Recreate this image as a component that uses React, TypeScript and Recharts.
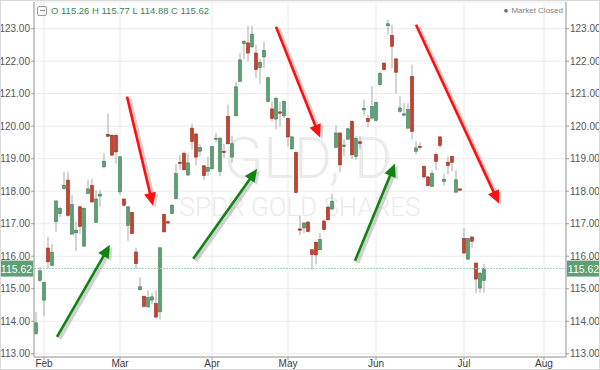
import React from "react";
import { ComposedChart, Bar, XAxis, YAxis, CartesianGrid, ReferenceLine } from "recharts";

// GLD daily candles, one entry per trading day starting Jan 30
const opens = [
  113.62, 115.26, 114.65, 116.25, 115.72, 117.06, 117.31, 118.08, 118.34, 116.68,
  116.72, 117.52, 116.31, 117.93, 118.17, 117.04, 117.85, 118.75, 119.75, 119.72,
  119.72, 117.98, 117.76, 116.95, 117.34, 116.13, 114.97, 114.77, 114.44, 114.65,
  114.54, 114.29, 117.28, 117.06, 117.31, 117.77, 118.89, 119.17, 118.5, 119.94,
  119.76, 119.23, 118.78, 118.61, 118.69, 119.6, 118.61, 119.23, 120.3, 119.05,
  120.32, 121.38, 122.54, 122.56, 122.44, 122.25, 121.8, 122.13, 120.76, 120.53,
  120.22, 120.44, 120.32, 120.24, 119.3, 119.19, 116.84, 116.87, 117.05, 116.2,
  116.43, 116.2, 117.08, 117.51, 117.45, 119.35, 119.79, 119.38, 119.6, 120.15,
  119.07, 119.52, 120.5, 120.24, 120.25, 120.18, 121.28, 121.94, 123.09, 122.79,
  122.07, 120.46, 120.34, 119.94, 121.53, 119.23, 119.38, 118.76, 118.44, 118.15,
  119.13, 119.67, 118.3, 118.89, 119.07, 117.97, 118.07, 116.55, 115.91, 116.59,
  115.79, 115.02, 115.26,
];
const highs = [
  114.29, 115.67, 115.21, 116.6, 116.37, 117.72, 117.52, 118.6, 118.6, 117.88,
  117.06, 117.54, 117.5, 118.34, 118.38, 118.03, 118.03, 119.16, 120.39, 119.77,
  119.77, 119.08, 117.77, 117.54, 117.36, 116.26, 115.36, 114.78, 114.95, 114.87,
  114.95, 116.26, 117.31, 117.1, 117.6, 118.84, 119.12, 119.23, 119.17, 120.08,
  119.79, 119.45, 118.8, 119.07, 119.38, 119.79, 119.67, 119.46, 120.66, 119.71,
  121.37, 122.25, 122.66, 123.09, 123.09, 122.51, 122.07, 122.6, 121.51, 120.76,
  120.89, 120.76, 120.78, 120.26, 119.69, 119.23, 117.25, 117.07, 117.08, 116.22,
  116.46, 116.71, 117.14, 117.55, 117.92, 120.02, 119.81, 119.6, 119.94, 120.2,
  119.69, 119.69, 120.82, 120.35, 121.23, 120.76, 121.69, 121.96, 123.28, 123.12,
  122.1, 120.92, 120.71, 120.71, 121.89, 119.54, 119.5, 118.81, 118.46, 118.64,
  119.19, 119.69, 118.53, 119.07, 119.09, 118.64, 118.1, 116.86, 116.56, 116.61,
  115.81, 115.51, 115.77,
];
const lows = [
  113.57, 115.21, 114.15, 115.62, 115.7, 116.75, 117.21, 118.05, 117.21, 116.67,
  116.16, 116.7, 116.29, 117.91, 117.64, 117.03, 117.52, 118.7, 119.67, 119.08,
  118.85, 117.88, 117.52, 116.47, 116.68, 115.62, 114.95, 114.42, 114.42, 114.52,
  114.08, 114.05, 116.73, 116.98, 117.29, 117.74, 118.66, 118.64, 118.46, 119.28,
  118.79, 119.07, 118.35, 118.46, 118.66, 119.5, 118.46, 119.02, 119.43, 118.87,
  120.3, 121.37, 122.05, 121.99, 122.41, 121.48, 121.31, 121.78, 120.73, 120.15,
  119.91, 119.99, 120.25, 119.38, 119.28, 117.94, 116.65, 116.71, 116.74, 115.58,
  115.74, 116.18, 116.79, 117.1, 117.43, 119.32, 118.58, 119.07, 119.58, 118.99,
  118.97, 119.3, 120.32, 119.97, 120.2, 120.15, 121.23, 121.72, 122.82, 121.79,
  121.0, 120.41, 120.3, 119.92, 119.59, 119.13, 119.28, 118.38, 118.15, 118.13,
  118.66, 119.34, 118.18, 118.52, 118.61, 117.96, 118.01, 116.05, 115.89, 116.26,
  114.86, 114.86, 114.88,
];
const closes = [
  113.95, 115.55, 115.19, 115.83, 116.12, 117.7, 117.47, 118.18, 117.26, 117.59,
  116.8, 116.92, 117.47, 118.07, 117.67, 117.76, 117.91, 118.92, 119.69, 119.11,
  119.21, 119.06, 117.57, 117.52, 116.7, 115.77, 115.06, 114.46, 114.73, 114.75,
  114.13, 116.26, 116.75, 117.02, 117.57, 118.54, 118.85, 118.66, 118.87, 119.53,
  119.05, 119.34, 118.48, 118.73, 119.37, 119.63, 119.63, 119.19, 119.46, 119.46,
  121.21, 122.04, 122.6, 122.25, 122.83, 121.74, 121.96, 122.33, 121.49, 120.24,
  120.86, 120.4, 120.77, 119.67, 119.67, 117.96, 116.8, 117.02, 116.76, 116.05,
  116.04, 116.51, 116.82, 117.12, 117.69, 119.79, 118.81, 119.42, 119.92, 119.12,
  119.63, 119.47, 120.55, 120.14, 120.6, 120.73, 121.62, 121.74, 123.15, 122.46,
  121.66, 120.56, 120.38, 120.51, 119.84, 119.33, 119.35, 118.44, 118.17, 118.54,
  118.92, 119.41, 118.37, 118.79, 118.89, 118.35, 118.03, 116.1, 116.54, 116.46,
  115.3, 115.48, 115.62,
];

// trading-day index of the first session of each month
const monthTicks = [2, 21, 44, 63, 85, 107, 127];
const monthLabels = ["Feb", "Mar", "Apr", "May", "Jun", "Jul", "Aug"];
const priceTicks = [113, 114, 115, 116, 117, 118, 119, 120, 121, 122, 123];

// hand-drawn trend arrows: [day index, price] tail -> tip
const arrowTails = [[5.25, 113.52], [22.75, 120.91], [39.3, 115.92], [60, 123.06], [79.75, 115.86], [95, 123.12]];
const arrowTips = [[18.5, 116.35], [29.25, 117.55], [55.3, 118.69], [71, 119.65], [89.75, 118.85], [115.75, 117.62]];
const arrowColors = ["#118311", "#ff1010", "#118311", "#ff1010", "#118311", "#ff1010"];

const candles = opens.map((o, i) => ({
  day: i,
  open: o,
  high: highs[i],
  low: lows[i],
  close: closes[i],
  range: [lows[i], highs[i]],
}));

const last = closes[closes.length - 1];
const lastOhlc = [opens.length - 1].map((i) => ({ o: opens[i], h: highs[i], l: lows[i], c: closes[i] }))[0];

const UP = "#5f9f74";
const UP_EDGE = "#3f7d55";
const DOWN = "#c8402e";
const DOWN_EDGE = "#952b1f";
const FONT = "'Liberation Sans', Arial, sans-serif";

const Candle = (props: any) => {
  const { x, y, width, height, payload } = props;
  if (!payload) return null;
  const { open, close, high, low } = payload;
  const top = Math.min(y, y + height);
  const h = Math.abs(height);
  const k = h / (high - low);
  const cx = Math.round(x + width / 2);
  const yo = top + (high - open) * k;
  const yc = top + (high - close) * k;
  const up = close >= open;
  const bTop = Math.min(yo, yc);
  const bH = Math.max(1, Math.abs(yc - yo));
  return (
    <g>
      <line x1={cx} x2={cx} y1={top} y2={top + h} stroke="#a9a9a9" strokeWidth={1} />
      <rect
        x={cx - 1.5}
        y={bTop}
        width={3}
        height={bH}
        fill={up ? UP : DOWN}
        stroke={up ? UP_EDGE : DOWN_EDGE}
        strokeWidth={0.6}
      />
    </g>
  );
};

const Arrow = (props: any) => {
  const { x1, y1, x2, y2, color } = props;
  const dx = x2 - x1;
  const dy = y2 - y1;
  const len = Math.sqrt(dx * dx + dy * dy);
  const ux = dx / len;
  const uy = dy / len;
  const L = 13;
  const W = 6;
  const bx = x2 - ux * L;
  const by = y2 - uy * L;
  const head = (ox: number, oy: number) =>
    `${x2 + ox},${y2 + oy} ${bx - uy * W + ox},${by + ux * W + oy} ${bx + uy * W + ox},${by - ux * W + oy}`;
  return (
    <g>
      <line x1={x1 + 2.5} y1={y1 + 2} x2={bx + 2.5} y2={by + 2} stroke="#9a9a9a" strokeOpacity={0.45} strokeWidth={4} />
      <polygon points={head(2.5, 2)} fill="#9a9a9a" fillOpacity={0.4} />
      <line x1={x1} y1={y1} x2={bx + ux * 2} y2={by + uy * 2} stroke={color} strokeWidth={2.6} />
      <polygon points={head(0, 0)} fill={color} />
    </g>
  );
};

const PriceLine = (props: any) => {
  const { x1, x2, y1 } = props;
  const label = last.toFixed(2);
  return (
    <g>
      <line x1={x1} x2={x2} y1={y1} y2={y1} stroke="#9fd1ae" strokeDasharray="2 1" strokeWidth={1} />
      <rect x={0} y={y1 - 8} width={x1 - 1} height={16} fill={UP} />
      <text x={(x1 - 1) / 2} y={y1 + 4} textAnchor="middle" fill="#fff" fontSize={10.5} fontFamily={FONT}>
        {label}
      </text>
      <rect x={x2 + 1} y={y1 - 8} width={600 - x2 - 1} height={16} fill={UP} />
      <text x={(x2 + 1 + 600) / 2} y={y1 + 4} textAnchor="middle" fill="#fff" fontSize={10.5} fontFamily={FONT}>
        {label}
      </text>
    </g>
  );
};

const App: React.FC = () => (
  <div style={{ position: "relative", width: 600, height: 370, background: "#fff", fontFamily: FONT }}>
    <style>{"body{margin:0}"}</style>

    {/* watermark */}
    <div style={{ position: "absolute", left: 0, width: 600, top: 128, textAlign: "center", fontFamily: "Roboto", fontWeight: 300, fontSize: 58, color: "#ebebeb", lineHeight: "60px", paddingLeft: 8 }}>
      GLD, D
    </div>
    <div style={{ position: "absolute", left: 0, width: 600, top: 193, textAlign: "center", fontFamily: "Roboto", fontWeight: 300, fontSize: 26, color: "#ebebeb", lineHeight: "28px" }}>
      SPDR GOLD SHARES
    </div>

    <div style={{ position: "absolute", left: 0, top: 0 }}>
      <ComposedChart width={600} height={370} data={candles} margin={{ top: 2, right: 0, bottom: 0, left: 0 }}>
        <CartesianGrid stroke="#ebebeb" />
        <XAxis
          dataKey="day"
          type="number"
          domain={[-0.5, 132.5]}
          allowDataOverflow
          ticks={monthTicks}
          interval={0}
          tickFormatter={(v: number) => monthLabels[monthTicks.indexOf(v)]}
          height={13}
          tickSize={3}
          tickMargin={0}
          axisLine={{ stroke: "#9a9a9a" }}
          tickLine={{ stroke: "#9a9a9a" }}
          tick={{ fill: "#3a3a3a", fontSize: 10, fontFamily: FONT }}
        />
        <YAxis
          orientation="left"
          width={34}
          domain={[112.9, 123.82]}
          allowDataOverflow
          ticks={priceTicks}
          interval={0}
          tickFormatter={(v: number) => v.toFixed(2)}
          tickSize={3}
          tickMargin={1}
          axisLine={{ stroke: "#9a9a9a" }}
          tickLine={{ stroke: "#9a9a9a" }}
          tick={{ fill: "#555", fontSize: 10, fontFamily: FONT }}
        />
        <YAxis
          yAxisId="right"
          orientation="right"
          width={34}
          domain={[112.9, 123.82]}
          allowDataOverflow
          ticks={priceTicks}
          interval={0}
          tickFormatter={(v: number) => v.toFixed(2)}
          tickSize={3}
          tickMargin={1}
          axisLine={{ stroke: "#9a9a9a" }}
          tickLine={{ stroke: "#9a9a9a" }}
          tick={{ fill: "#555", fontSize: 10, fontFamily: FONT }}
        />
        <ReferenceLine y={last} shape={(p: any) => <PriceLine {...p} />} />
        <Bar dataKey="range" barSize={3} isAnimationActive={false} shape={(p: any) => <Candle {...p} />} />
        {arrowTails.map((t, i) => (
          <ReferenceLine
            key={i}
            segment={[
              { x: t[0], y: t[1] },
              { x: arrowTips[i][0], y: arrowTips[i][1] },
            ]}
            shape={(p: any) => <Arrow {...p} color={arrowColors[i]} />}
          />
        ))}
      </ComposedChart>
    </div>

    {/* OHLC header */}
    <div style={{ position: "absolute", left: 37, top: 5, display: "flex", alignItems: "center", fontSize: 9.5, color: "#3f7f58", fontFamily: FONT }}>
      <div style={{ width: 8, height: 8, border: "1px solid #999", borderRadius: 2, position: "relative", marginRight: 4 }}>
        <div style={{ position: "absolute", left: 1.5, right: 1.5, top: 3.5, height: 1, background: "#888" }} />
      </div>
      <span>
        O {lastOhlc.o.toFixed(2)} H {lastOhlc.h.toFixed(2)} L {lastOhlc.l.toFixed(2)} C {lastOhlc.c.toFixed(2)}
      </span>
    </div>
    <div style={{ position: "absolute", right: 37, top: 6, fontSize: 8, color: "#808080", fontFamily: FONT }}>
      <span style={{ color: "#666", marginRight: 3 }}>●</span>Market Closed
    </div>

    <div style={{ position: "absolute", inset: 0, border: "1px solid #d9d9d9", pointerEvents: "none" }} />
  </div>
);

export default App;
